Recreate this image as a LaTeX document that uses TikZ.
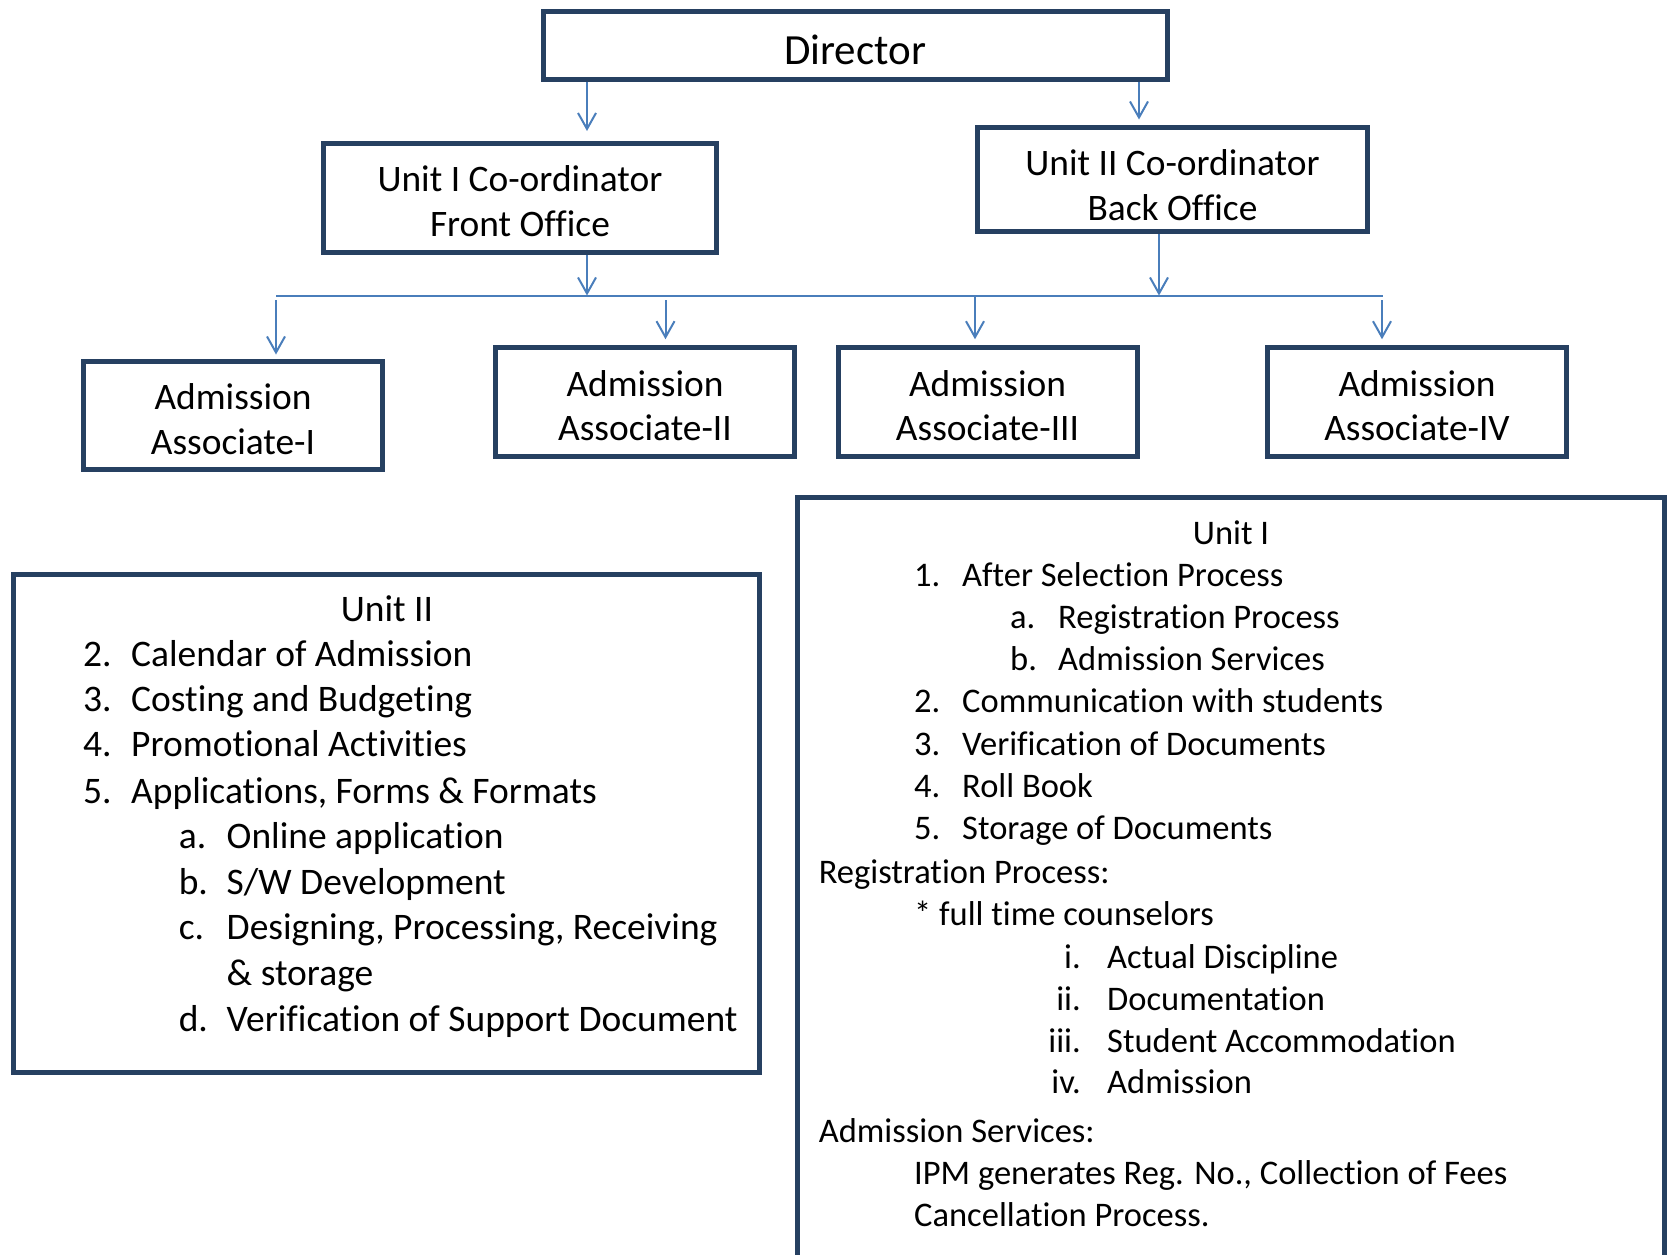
\documentclass[tikz,border=0pt]{standalone}
\usepackage{fontspec}
\setmainfont{Carlito}[Ligatures={TeX,NoCommon}]
\usetikzlibrary{arrows.meta}
\definecolor{boxline}{HTML}{264061}
\definecolor{linkblue}{HTML}{4A7EBB}
\begin{document}
\begin{tikzpicture}[x=1pt,y=-1pt,
  orgbox/.style={draw=boxline,line width=5pt,inner sep=0pt},
  boxtext/.style={inner sep=0pt,align=center,font=\fontsize{37.4}{44.7}\selectfont},
  panel/.style={draw=boxline,line width=5pt,inner sep=0pt},
  link/.style={draw=linkblue,line width=2pt,
    -{Straight Barb[length=16pt,width=18pt,line width=2pt]}},
  busline/.style={draw=linkblue,line width=2pt},
  litem/.style={anchor=west,inner sep=0pt,text height=23pt,text depth=0pt,
    font=\fontsize{37.5}{43}\selectfont},
  ritem/.style={anchor=west,inner sep=0pt,text height=22pt,text depth=0pt,
    font=\fontsize{34.5}{41}\selectfont},
]
\useasboundingbox (0,0) rectangle (1667,1254);

% organisation boxes
\node[orgbox,minimum width=624pt,minimum height=68pt] (dir) at (855,45) {};
\node[orgbox,minimum width=393pt,minimum height=109pt] (u1) at (520,198) {};
\node[orgbox,minimum width=390pt,minimum height=104pt] (u2) at (1172.5,179.5) {};
\node[orgbox,minimum width=299pt,minimum height=108pt] (aa1) at (233,415.5) {};
\node[orgbox,minimum width=299pt,minimum height=108.5pt] (aa2) at (645,402) {};
\node[orgbox,minimum width=299pt,minimum height=108.5pt] (aa3) at (987.5,402) {};
\node[orgbox,minimum width=299pt,minimum height=108.5pt] (aa4) at (1417,402) {};

% box captions
\node[boxtext,font=\fontsize{43}{50}\selectfont] (dirtxt) at ([yshift=-4.5pt]dir.center) {Director};
\node[boxtext] (u1txt) at ([yshift=-3.2pt]u1.center) {Unit I Co-ordinator\\Front Office};
\node[boxtext] (u2txt) at ([yshift=-5.3pt]u2.center) {Unit II Co-ordinator\\Back Office};
\node[boxtext] (aa1txt) at ([yshift=-3.7pt]aa1.center) {Admission\\Associate-I};
\node[boxtext] (aa2txt) at ([yshift=-3.7pt]aa2.center) {Admission\\Associate-II};
\node[boxtext] (aa3txt) at ([yshift=-3.7pt]aa3.center) {Admission\\Associate-III};
\node[boxtext] (aa4txt) at ([yshift=-3.7pt]aa4.center) {Admission\\Associate-IV};

% connectors
\coordinate (busW) at (276,295.5);
\coordinate (busE) at (1383,295.5);
\coordinate (d1) at (276,300);
\coordinate (d2) at (665.5,300);
\coordinate (d3) at (975,295.5);
\coordinate (d4) at (1382,300);
\draw[link,shorten >=10pt] (dir.south -| 587,0) -- (u1.north -| 587,0);
\draw[link,shorten >=5.5pt] (dir.south -| 1139,0) -- (u2.north -| 1139,0);
\draw[busline] (busW) -- (busE);
\draw[link] (u1.south -| 587,0) -- (busW -| 587,0);
\draw[link] (u2.south -| 1159,0) -- (busW -| 1159,0);
\draw[link,shorten >=4.5pt] (d1) -- (d1 |- aa1.north);
\draw[link,shorten >=6pt] (d2) -- (d2 |- aa2.north);
\draw[link,shorten >=6pt] (d3) -- (d3 |- aa3.north);
\draw[link,shorten >=6pt] (d4) -- (d4 |- aa4.north);

% Unit II duties
\node[panel,minimum width=746.5pt,minimum height=498pt] (u2list) at (386.25,823.5) {};
\node[litem,anchor=center] (u2t) at (387,610) {Unit II};
\node[litem] (n2) at (83,654.5) {2.};
\node[litem] (t2) at (131,654.5) {Calendar of Admission};
\node[litem] (n3) at (83,699.5) {3.};
\node[litem] (t3) at (131,699.5) {Costing and Budgeting};
\node[litem] (n4) at (83,745) {4.};
\node[litem] (t4) at (131,745) {Promotional Activities};
\node[litem] (n5) at (83,792) {5.};
\node[litem] (t5) at (131,792) {Applications, Forms \& Formats};
\node[litem] (na) at (178.6,837) {a.};
\node[litem] (ta) at (226.5,837) {Online application};
\node[litem] (nb) at (178.6,882.5) {b.};
\node[litem] (tb) at (226.5,882.5) {S/W Development};
\node[litem] (nc) at (178.6,928) {c.};
\node[litem] (tc) at (226.5,928) {Designing, Processing, Receiving};
\node[litem] (tc2) at (226.5,974) {\& storage};
\node[litem] (nd) at (178.6,1019.5) {d.};
\node[litem] (td) at (226.5,1019.5) {Verification of Support Document};

% Unit I duties
\begin{scope}
\clip (0,0) rectangle (1667,1254);
\node[panel,minimum width=867pt,minimum height=803pt] (u1list) at (1230.5,898.5) {};
\end{scope}
\node[ritem,anchor=center] (u1t) at (1231,533.5) {Unit I};
\node[ritem] (r1) at (914,575) {1.};
\node[ritem] (s1) at (962,575) {After Selection Process};
\node[ritem] (ra) at (1010,617.7) {a.};
\node[ritem] (sa) at (1058,617.7) {Registration Process};
\node[ritem] (rb) at (1010,659) {b.};
\node[ritem] (sb) at (1058,659) {Admission Services};
\node[ritem] (r2) at (914,701.6) {2.};
\node[ritem] (s2) at (962,701.6) {Communication with students};
\node[ritem] (r3) at (914,744) {3.};
\node[ritem] (s3) at (962,744) {Verification of Documents};
\node[ritem] (r4) at (914,786.7) {4.};
\node[ritem] (s4) at (962,786.7) {Roll Book};
\node[ritem] (r5) at (914,828) {5.};
\node[ritem] (s5) at (962,828) {Storage of Documents};
\node[ritem] (reg) at (818.6,872.5) {Registration Process:};
\node[ritem] (cns) at (914,914) {* full time counselors};
\node[ritem,anchor=east] (ri) at (1081,957) {i.};
\node[ritem] (si) at (1107,957) {Actual Discipline};
\node[ritem,anchor=east] (rii) at (1081,999) {ii.};
\node[ritem] (sii) at (1107,999) {Documentation};
\node[ritem,anchor=east] (riii) at (1081,1041) {iii.};
\node[ritem] (siii) at (1107,1041) {Student Accommodation};
\node[ritem,anchor=east] (riv) at (1081,1082) {iv.};
\node[ritem] (siv) at (1107,1082) {Admission};
\node[ritem] (adm) at (818.6,1131) {Admission Services:};
\node[ritem] (ipm) at (914,1173.7) {IPM generates Reg. No., Collection of Fees};
\node[ritem] (can) at (914,1215) {Cancellation Process.};
\end{tikzpicture}
\end{document}
